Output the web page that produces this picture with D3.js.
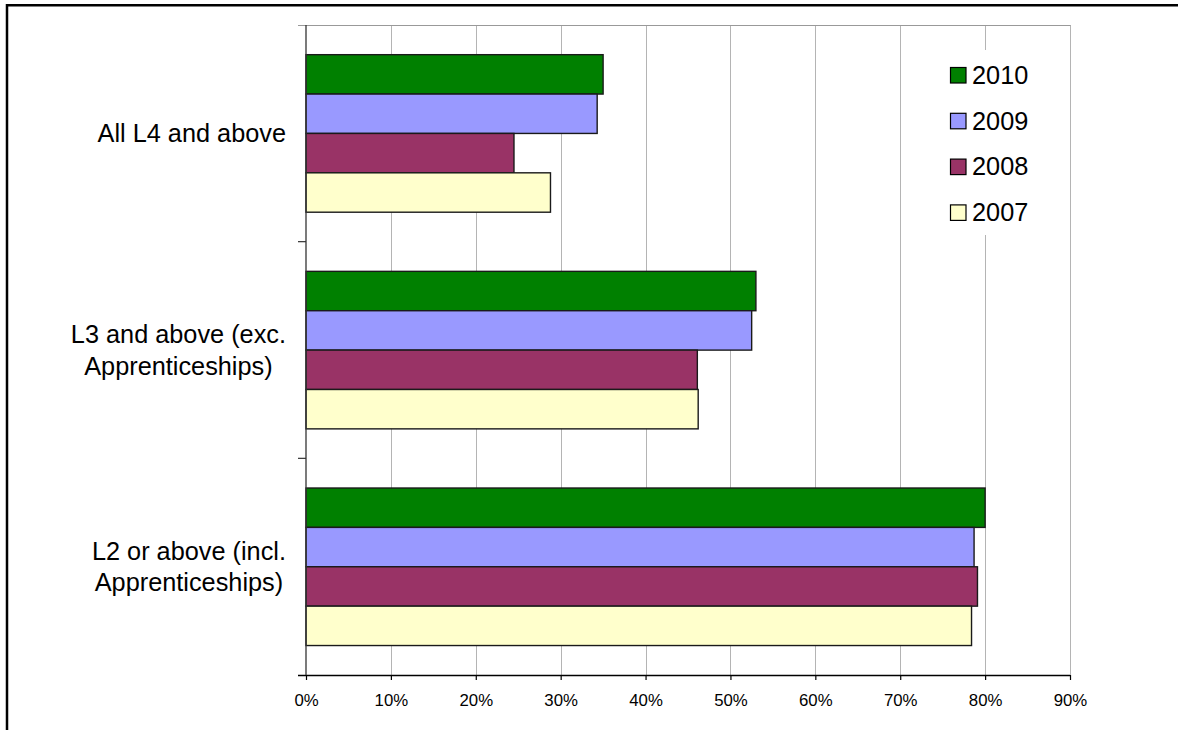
<!DOCTYPE html>
<html>
<head>
<meta charset="utf-8">
<script src="https://cdn.jsdelivr.net/npm/d3@7"></script>
<style>
  html, body { margin: 0; padding: 0; background: #fff; }
  svg { display: block; font-family: "Liberation Sans", Arial, sans-serif; }
</style>
</head>
<body>
<svg id="chart" width="1178" height="730"></svg>
<script>
// ---- data ----
const categories = [
  ["All L4 and above"],
  ["L3 and above (exc.", "Apprenticeships)"],
  ["L2 or above (incl.", "Apprenticeships)"]
];
const seriesNames = ["2010", "2009", "2008", "2007"];
const seriesColors = ["#008000", "#9999FF", "#993366", "#FFFFCC"];
const values2010 = [35.0, 53.0, 80.0];
const values2009 = [34.3, 52.5, 78.7];
const values2008 = [24.5, 46.1, 79.1];
const values2007 = [28.8, 46.2, 78.4];
const seriesValues = [values2010, values2009, values2008, values2007];
const xTicks = [0, 10, 20, 30, 40, 50, 60, 70, 80, 90];
const xTickLabels = ["0%", "10%", "20%", "30%", "40%", "50%", "60%", "70%", "80%", "90%"];

// ---- layout ----
const svg = d3.select("#chart");
const plot = { left: 306, right: 1070, top: 25, bottom: 675 };
const catKeys = categories.map((c, i) => i);

const x = d3.scaleLinear().domain([0, 90]).range([plot.left, plot.right]);
const y = d3.scaleBand().domain(catKeys).range([plot.top, plot.bottom]).padding(0);
const bw = y.bandwidth();
const ySub = d3.scaleBand().domain(seriesNames).range([bw * 0.137, bw * (1 - 0.136)]).padding(0);

// outer frame
svg.append("line").attr("x1", 7).attr("x2", 7).attr("y1", 4).attr("y2", 730)
  .attr("stroke", "#000").attr("stroke-width", 2.5);
svg.append("line").attr("x1", 6).attr("x2", 1178).attr("y1", 5.3).attr("y2", 5.3)
  .attr("stroke", "#000").attr("stroke-width", 2.5);

// gridlines
svg.append("g").selectAll("line").data(xTicks.slice(1)).join("line")
  .attr("x1", d => Math.round(x(d)) + 0.5).attr("x2", d => Math.round(x(d)) + 0.5)
  .attr("y1", plot.top).attr("y2", plot.bottom)
  .attr("stroke", "#b4b4b4").attr("stroke-width", 1);

// plot top border
svg.append("line").attr("x1", plot.left - 8).attr("x2", plot.right + 0.5)
  .attr("y1", plot.top + 0.5).attr("y2", plot.top + 0.5)
  .attr("stroke", "#999").attr("stroke-width", 1.2);

// bars
const groups = svg.append("g").selectAll("g").data(catKeys).join("g")
  .attr("transform", d => `translate(0,${y(d)})`);
groups.selectAll("rect").data(ci => seriesNames.map((s, si) => ({ s, si, v: seriesValues[si][ci] })))
  .join("rect")
  .attr("x", x(0))
  .attr("y", d => ySub(d.s))
  .attr("width", d => x(d.v) - x(0))
  .attr("height", ySub.bandwidth())
  .attr("fill", d => seriesColors[d.si])
  .attr("stroke", "#1a1a1a").attr("stroke-width", 1.4);

// x axis
const xAxis = d3.axisBottom(x).tickValues(xTicks).tickFormat((d, i) => xTickLabels[i]).tickSize(5).tickSizeOuter(0);
const gx = svg.append("g").attr("transform", `translate(0,${plot.bottom})`).call(xAxis);
gx.attr("font-size", null).attr("font-family", null);
gx.select(".domain").attr("stroke", "#000").attr("stroke-width", 1.3)
  .attr("d", `M${plot.left - 8},0.5H${plot.right}`);
gx.selectAll(".tick line").attr("stroke", "#000").attr("stroke-width", 1.2);
gx.selectAll(".tick text").style("font-size", "16.8px").attr("fill", "#000")
  .attr("dy", null).attr("y", 31);

// y axis line and ticks at category boundaries
svg.append("line").attr("x1", plot.left).attr("x2", plot.left)
  .attr("y1", plot.top).attr("y2", plot.bottom)
  .attr("stroke", "#333").attr("stroke-width", 1.3);
const bounds = catKeys.slice(1).map(k => y(k));
svg.append("g").selectAll("line").data(bounds).join("line")
  .attr("x1", plot.left - 8).attr("x2", plot.left)
  .attr("y1", d => d).attr("y2", d => d)
  .attr("stroke", "#333").attr("stroke-width", 1.2);

// category labels (centered lines, block right-aligned)
const fs = 25.3, lh = 31.3, labelRight = 286;
catKeys.forEach(k => {
  const lines = categories[k];
  const t = svg.append("text").attr("font-size", fs + "px").attr("fill", "#000").attr("text-anchor", "middle");
  const cy = y(k) + bw / 2;
  const firstBase = cy + fs * 0.358 - (lines.length - 1) * lh / 2;
  lines.forEach((ln, i) => t.append("tspan").attr("x", 0).attr("y", firstBase + i * lh).text(ln));
  const w = t.node().getBBox().width;
  t.selectAll("tspan").attr("x", labelRight - w / 2);
});

// legend
const lg = svg.append("g");
lg.append("rect").attr("x", 935).attr("y", 50).attr("width", 125).attr("height", 185).attr("fill", "#fff");
const legendStep = 45.8;
seriesNames.forEach((s, i) => {
  const cy = 75 + i * legendStep;
  lg.append("rect").attr("x", 950.5).attr("y", cy - 7.5).attr("width", 15.5).attr("height", 15.5)
    .attr("fill", seriesColors[i]).attr("stroke", "#000").attr("stroke-width", 1.2);
  lg.append("text").attr("x", 972).attr("y", cy + 8.8).attr("font-size", "25.3px").attr("fill", "#000").text(s);
});
</script>
</body>
</html>
